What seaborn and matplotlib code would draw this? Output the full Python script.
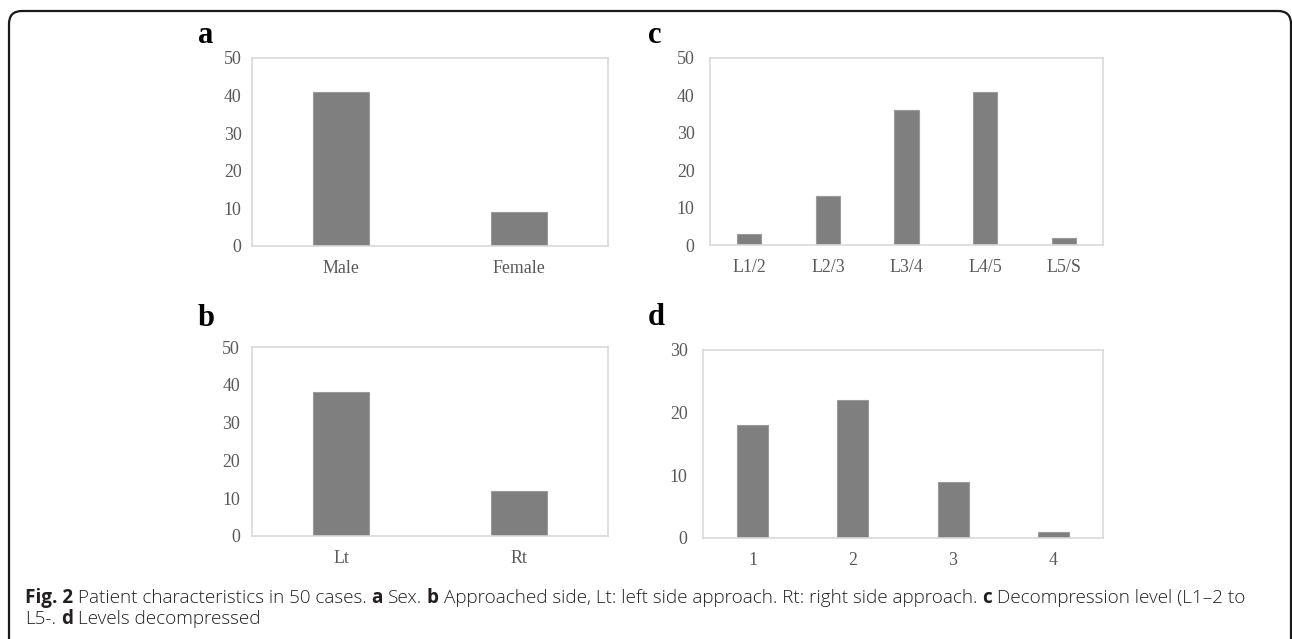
import matplotlib
matplotlib.use('Agg')
import matplotlib.pyplot as plt
import seaborn as sns
import pandas as pd
from matplotlib.patches import FancyBboxPatch
from matplotlib import font_manager as fm

# ---- data ----
sex_labels = ['Male', 'Female']
sex_counts = [41, 9]
side_labels = ['Lt', 'Rt']
side_counts = [38, 12]
level_labels = ['L1/2', 'L2/3', 'L3/4', 'L4/5', 'L5/S']
level_counts = [3, 13, 36, 41, 2]
nlev_labels = ['1', '2', '3', '4']
nlev_counts = [18, 22, 9, 1]

caption_line1 = [('Fig. 2', True), ('Patient characteristics in 50 cases.', False), ('a', True),
                 ('Sex.', False), ('b', True),
                 ('Approached side, Lt: left side approach. Rt: right side approach.', False),
                 ('c', True), ('Decompression level (L1–2 to', False)]
caption_line2 = [('L5-.', False), ('d', True), ('Levels decompressed', False)]

sns.set_theme(style='white')
plt.rcParams['font.family'] = ['Liberation Serif', 'DejaVu Serif']

W, H = 1292, 639
fig = plt.figure(figsize=(W / 100, H / 100), dpi=100)
fig.patch.set_facecolor('white')


def rect(l, t, r, b):
    return [l / W, 1 - b / H, (r - l) / W, (b - t) / H]


panels = [
    ('a', sex_labels, sex_counts, rect(252, 58, 608, 246), 50, 10, 7.5, (198, 43)),
    ('b', side_labels, side_counts, rect(252, 347, 608, 536), 50, 10, 8.5, (198, 326)),
    ('c', level_labels, level_counts, rect(710, 58, 1103, 245), 50, 10, 11, (648, 43)),
    ('d', nlev_labels, nlev_counts, rect(703, 350, 1103, 538), 30, 10, 11, (648, 325)),
]

for letter, labels, counts, pos, ymax, step, ypad, (lx, ly) in panels:
    ax = fig.add_axes(pos)
    df = pd.DataFrame({'cat': labels, 'n': counts})
    sns.barplot(data=df, x='cat', y='n', ax=ax, color='#7f7f7f', width=0.31,
                saturation=1, edgecolor='#9a9a9a', linewidth=0.8)
    ax.set_ylim(0, ymax)
    ax.set_yticks(range(0, ymax + 1, step))
    ax.set_xlim(-0.5, len(labels) - 0.5)
    ax.set_xlabel('')
    ax.set_ylabel('')
    ax.tick_params(length=0, labelsize=12.9, labelcolor='#595959')
    ax.tick_params(axis='y', pad=ypad)
    ax.tick_params(axis='x', pad=10)
    for s in ax.spines.values():
        s.set_visible(True)
        s.set_color('#d9d9d9')
        s.set_linewidth(1.2)
    ax.grid(False)
    fig.text(lx / W, 1 - ly / H, letter, fontsize=22, fontweight='bold',
             va='baseline', ha='left', color='black')

# outer rounded frame (open at the bottom, cut by the image edge)
frame = FancyBboxPatch((0.09, -0.5), 12.82, 6.78,
                       boxstyle='round,pad=0,rounding_size=0.13',
                       transform=fig.dpi_scale_trans, fill=False,
                       edgecolor='#1a1a1a', linewidth=1.6)
fig.add_artist(frame)

# ---- caption font choice: light, semi-condensed humanist sans ----
def has_font(name, weight, stretch):
    return any(f.name == name and f.weight == weight and f.stretch == stretch
               for f in fm.fontManager.ttflist)


cap_name, cap_stretch = 'Open Sans', 'normal'
for name, stretch in [('Open Sans', 'semi-condensed'), ('Noto Sans', 'semi-condensed'),
                      ('Open Sans', 'normal')]:
    if has_font(name, 300, stretch):
        cap_name, cap_stretch = name, stretch
        break

renderer = fig.canvas.get_renderer()
CAP_FAMILY = [cap_name, 'DejaVu Sans']


def cap_text(x, y, s, size, bold, **kw):
    return fig.text(x, y, s, fontsize=size, family=CAP_FAMILY,
                    fontweight=700 if bold else 300, fontstretch=cap_stretch, **kw)


def width_of(s, size, bold):
    t = cap_text(0, 0, s, size, bold)
    w = t.get_window_extent(renderer).width
    t.remove()
    return w


def space_w(size):
    return width_of('x x', size, False) - width_of('xx', size, False)


def line_width(runs, size):
    sp = space_w(size)
    return sum(width_of(s, size, b) for s, b in runs) + sp * (len(runs) - 1)


def draw_line(runs, x0, baseline, size):
    sp = space_w(size)
    x = x0
    for s, b in runs:
        t = cap_text(x / W, 1 - baseline / H, s, size, b,
                     color='#231f20', va='baseline', ha='left')
        x += t.get_window_extent(renderer).width + sp


base = 10.0
lw = line_width(caption_line1, base)
cap_size = min(13.6, base * (1275 - 25) / lw)
draw_line(caption_line1, 25, 603, cap_size)
draw_line(caption_line2, 25, 624, cap_size)

fig.savefig('out.png', dpi=100, facecolor='white')
